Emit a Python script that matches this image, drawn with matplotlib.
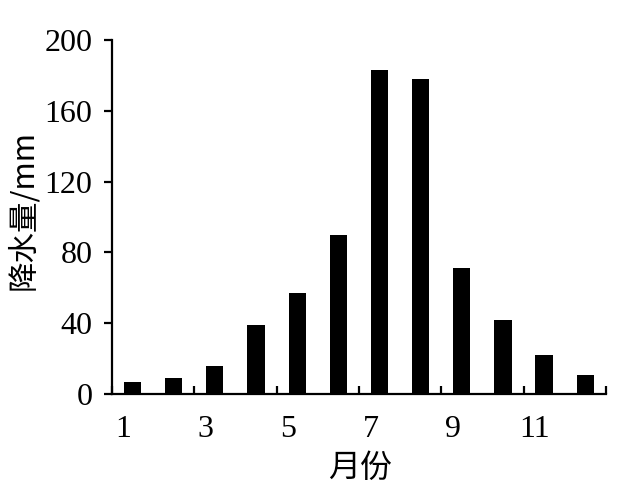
"""Monthly precipitation bar chart."""
import matplotlib
matplotlib.use("Agg")
import matplotlib.pyplot as plt

months = list(range(1, 13))
precip = [7, 9, 16, 39, 57, 90, 183, 178, 71, 42, 22, 11]
xtick_labels = ["1", "3", "5", "7", "9", "11"]
xtick_months = [1, 3, 5, 7, 9, 11]
yticks = [0, 40, 80, 120, 160, 200]

serif = ["Liberation Serif", "Noto Sans CJK SC"]
cjk = ["Noto Sans CJK SC", "Liberation Serif"]


def main():
    fig = plt.figure(figsize=(6.22, 4.88), dpi=100)
    ax = fig.add_axes([0.180, 0.1926, 0.794, 0.7254])

    ax.bar(months, precip, width=0.42, color="black")
    ax.set_xlim(0.5, 12.5)
    ax.set_ylim(0, 200)

    for side in ("top", "right"):
        ax.spines[side].set_visible(False)
    for side in ("left", "bottom"):
        ax.spines[side].set_linewidth(1.6)

    # boundary ticks every two months, pointing up
    ax.set_xticks([m + 0.5 for m in range(0, 13, 2)])
    ax.set_xticklabels([])
    ax.tick_params(axis="x", which="major", direction="in", length=6, width=1.6)
    # labels sit near the left edge of their bars
    ax.set_xticks([m - 0.22 for m in xtick_months], minor=True)
    ax.set_xticklabels(xtick_labels, minor=True, fontsize=23, family=serif)
    ax.tick_params(axis="x", which="minor", length=0, pad=15)

    ax.set_yticks(yticks)
    ax.set_yticklabels([str(v) for v in yticks], fontsize=23, family=serif)
    ax.tick_params(axis="y", direction="out", length=6, width=1.6, pad=8)

    ax.set_xlabel("月份", fontsize=23, family=cjk, va="center")
    ax.xaxis.set_label_coords(0.502, -0.208)
    ax.set_ylabel("降水量/mm", fontsize=22, family=cjk, va="center")
    ax.yaxis.set_label_coords(-0.180, 0.52)

    fig.savefig("out.png", dpi=100)


if __name__ == "__main__":
    main()
